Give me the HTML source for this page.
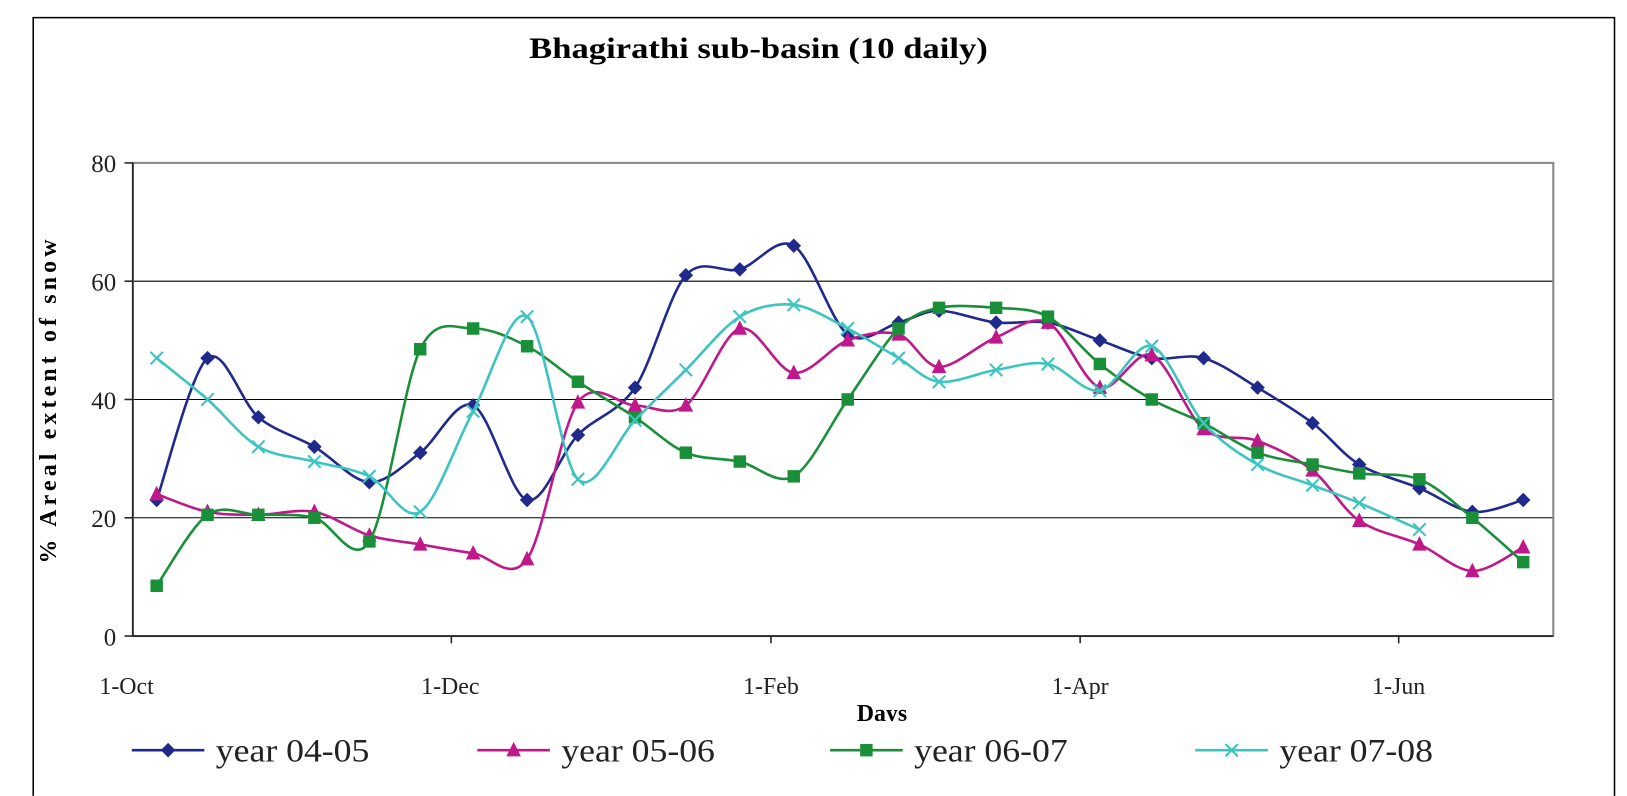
<!DOCTYPE html>
<html><head><meta charset="utf-8"><style>
html,body{margin:0;padding:0;background:#fff;overflow:hidden}
svg{display:block;font-family:"Liberation Serif",serif}
</style></head><body>
<svg id="s" width="1627" height="796" viewBox="0 0 1627 796" xmlns="http://www.w3.org/2000/svg">
<g transform="scale(1.0376)">
<path d="M32 767 L32 17 L1556 17 L1556 767" fill="none" stroke="#000" stroke-width="1.5"/>
<text x="510" y="56" font-size="29" font-weight="bold" textLength="442" lengthAdjust="spacingAndGlyphs">Bhagirathi sub-basin (10 daily)</text>
<g stroke="#000" stroke-width="1">
<line x1="128" y1="271" x2="1497" y2="271"/>
<line x1="128" y1="385" x2="1497" y2="385"/>
<line x1="128" y1="499" x2="1497" y2="499"/>
</g>
<rect x="128" y="157" width="1369" height="456" fill="none" stroke="#888" stroke-width="2"/>
<g stroke="#222" stroke-width="1.5">
<line x1="128" y1="157" x2="128" y2="613"/>
<line x1="128" y1="613" x2="1497" y2="613"/>
<line x1="120" y1="157" x2="128" y2="157"/><line x1="120" y1="271" x2="128" y2="271"/>
<line x1="120" y1="385" x2="128" y2="385"/><line x1="120" y1="499" x2="128" y2="499"/>
<line x1="120" y1="613" x2="128" y2="613"/>
<line x1="435" y1="613" x2="435" y2="620"/><line x1="743" y1="613" x2="743" y2="620"/>
<line x1="1041" y1="613" x2="1041" y2="620"/><line x1="1348" y1="613" x2="1348" y2="620"/>
</g>
<g font-size="24" text-anchor="end" fill="#222">
<text x="112" y="166">80</text><text x="112" y="280">60</text><text x="112" y="394">40</text>
<text x="112" y="508">20</text><text x="112" y="622">0</text>
</g>
<g font-size="23" text-anchor="middle" fill="#222">
<text x="122" y="669">1-Oct</text><text x="434" y="669">1-Dec</text><text x="743" y="669">1-Feb</text>
<text x="1041" y="669">1-Apr</text><text x="1348" y="669">1-Jun</text>
</g>
<text x="0" y="0" font-size="23" font-weight="bold" text-anchor="middle" letter-spacing="4" transform="translate(54,385) rotate(-90)">% Areal extent of snow</text>
<text x="850" y="695" font-size="23" font-weight="bold" text-anchor="middle">Days</text>
<rect x="700" y="695" width="300" height="20" fill="#fff"/>
<g id="series"></g>
<g id="legend" font-size="32" fill="#222"></g>
</g>
</svg>
<script>
var X=[151,200,249,303,356,405,456,508,557,612,661,713,765,817,866,905,960,1010,1060,1110,1160,1212,1265,1310,1368,1419,1468];
var D=[
{c:"#1f2a8c",m:"d",v:[23,47,37,32,26,31,39,23,34,42,61,62,66,51,53,55,53,53,50,47,47,42,36,29,25,21,23]},
{c:"#c0188a",m:"t",v:[24,21,20.5,21,17,15.5,14,13,39.5,39,39,52,44.5,50,51,45.5,50.5,53,42,47.5,35,33,28,19.5,15.5,11,15]},
{c:"#1a8f3a",m:"s",v:[8.5,20.5,20.5,20,16,48.5,52,49,43,37,31,29.5,27,40,52,55.5,55.5,54,46,40,36,31,29,27.5,26.5,20,12.5]},
{c:"#3cc4c0",m:"x",v:[47,40,32,29.5,27,21,38,54,26.5,36.5,45,54,56,52,47,43,45,46,41.5,49,36,29,25.5,22.5,18]}
];
var NS="http://www.w3.org/2000/svg";
function Y(v){return 613-v*5.7}
function el(t,a,p){var e=document.createElementNS(NS,t);for(var k in a)e.setAttribute(k,a[k]);p.appendChild(e);return e}
function mk(m,x,y,c,p){
 if(m=="d")el("polygon",{points:(x)+","+(y-7)+" "+(x+7)+","+y+" "+x+","+(y+7)+" "+(x-7)+","+y,fill:c},p);
 else if(m=="t")el("polygon",{points:x+","+(y-8)+" "+(x+7)+","+(y+6)+" "+(x-7)+","+(y+6),fill:c},p);
 else if(m=="s")el("rect",{x:x-6,y:y-6,width:12,height:12,fill:c},p);
 else {el("path",{d:"M"+(x-6)+" "+(y-6)+"L"+(x+6)+" "+(y+6)+"M"+(x+6)+" "+(y-6)+"L"+(x-6)+" "+(y+6),stroke:c,"stroke-width":2},p);}
}
var g=document.getElementById("series");
D.forEach(function(s){
 var P=s.v.map(function(v,i){return[X[i],Y(v)]});
 var d="M"+P[0][0]+" "+P[0][1];
 for(var i=0;i<P.length-1;i++){
  var p0=P[i-1]||P[i],p1=P[i],p2=P[i+1],p3=P[i+2]||p2,t=0.16;
  d+=" C"+(p1[0]+(p2[0]-p0[0])*t)+" "+(p1[1]+(p2[1]-p0[1])*t)+" "+(p2[0]-(p3[0]-p1[0])*t)+" "+(p2[1]-(p3[1]-p1[1])*t)+" "+p2[0]+" "+p2[1];
 }
 el("path",{d:d,fill:"none",stroke:s.c,"stroke-width":2.5},g);
 P.forEach(function(p){mk(s.m,p[0],p[1],s.c,g)});
});
var L=document.getElementById("legend"),lx=[127,460,800,1152],nm=["year 04-05","year 05-06","year 06-07","year 07-08"];
D.forEach(function(s,i){
 el("line",{x1:lx[i],y1:723,x2:lx[i]+70,y2:723,stroke:s.c,"stroke-width":2.5},L);
 mk(s.m,lx[i]+35,723,s.c,L);
 var t=el("text",{x:lx[i]+81,y:734,textLength:148,lengthAdjust:"spacingAndGlyphs"},L);t.textContent=nm[i];
});
</script>
</body></html>
